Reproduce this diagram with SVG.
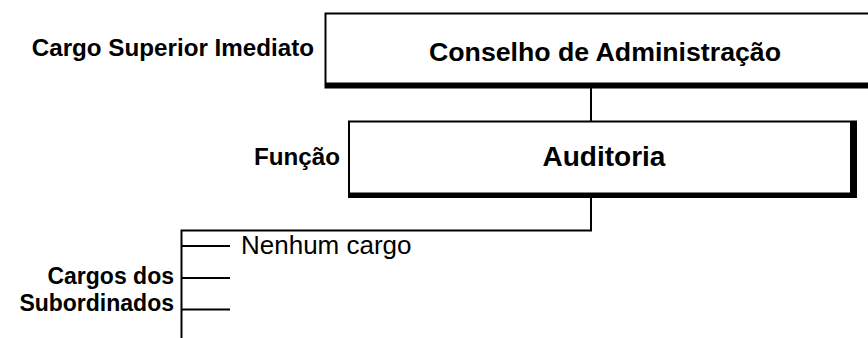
<svg xmlns="http://www.w3.org/2000/svg" width="868" height="338" viewBox="0 0 868 338">
<style>
.lbl{font-family:"Liberation Sans",Arial,sans-serif;font-weight:bold;font-size:24.2px;fill:#000}
.sub{font-size:23px}
.ttl{font-family:"Liberation Sans",Arial,sans-serif;font-weight:bold;fill:#000;text-anchor:middle}
.txt{font-family:"Liberation Sans",Arial,sans-serif;font-size:26px;fill:#000}
.ln{stroke:#000;stroke-width:2;fill:none}
.shadow{fill:#000}
.face{fill:#fff}
</style>
<rect width="868" height="338" fill="#fff"/>
<g id="connectors">
  <line class="ln" x1="591" y1="88" x2="591" y2="121"/>
  <polyline class="ln" points="591,198 591,230.5 181.5,230.5 181.5,338"/>
  <line class="ln" x1="181.5" y1="246" x2="230" y2="246"/>
  <line class="ln" x1="181.5" y1="278" x2="230" y2="278"/>
  <line class="ln" x1="181.5" y1="309.5" x2="230" y2="309.5"/>
</g>
<g id="node-conselho">
  <rect class="shadow" x="324.5" y="12.5" width="560" height="76"/>
  <rect class="face" x="326.5" y="14.5" width="560" height="68"/>
  <text class="ttl" x="605" y="61" font-size="26.7">Conselho de Administração</text>
</g>
<g id="node-auditoria">
  <rect class="shadow" x="348" y="120.5" width="509" height="77.5"/>
  <rect class="face" x="350" y="122.5" width="500" height="70"/>
  <text class="ttl" x="604" y="166" font-size="28">Auditoria</text>
</g>
<g id="label-superior">
  <text class="lbl" x="314" y="56" text-anchor="end">Cargo Superior Imediato</text>
</g>
<g id="label-funcao">
  <text class="lbl" x="340" y="165" text-anchor="end">Função</text>
</g>
<g id="label-subordinados">
  <text class="lbl sub" x="174" y="284" text-anchor="end">Cargos dos</text>
  <text class="lbl sub" x="174" y="310.5" text-anchor="end">Subordinados</text>
</g>
<g id="node-nenhum">
  <text class="txt" x="241" y="254">Nenhum cargo</text>
</g>
</svg>
